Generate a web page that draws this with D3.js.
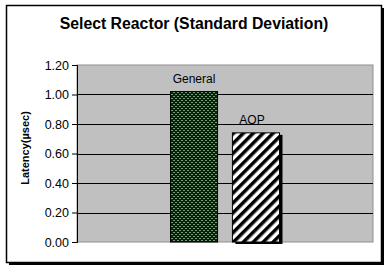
<!DOCTYPE html>
<html>
<head>
<meta charset="utf-8">
<script src="https://cdn.jsdelivr.net/npm/d3@7"></script>
<style>
  body { margin: 0; background: #fff; }
  svg { display: block; font-family: Arial, "Liberation Sans", sans-serif; }
</style>
</head>
<body>
<svg id="chart"></svg>
<script>
/*
    LAYOUT
*/
var width = 390;
var height = 271;
var margin = {top: 65, right: 17, bottom: 29, left: 77};

var w = width - margin.left - margin.right;
var h = height - margin.top - margin.bottom;

/*
    DATA
*/
var categories = ["Select Reactor"];
var series = ["General", "AOP"];
var values = [1.02, 0.74];
var yTicks = [0, 0.2, 0.4, 0.6, 0.8, 1.0, 1.2];

var svg = d3.select("#chart")
  .attr("width", width)
  .attr("height", height);

// patterns for the two bars
var defs = svg.append("defs");

var dots = defs.append("pattern")
  .attr("id", "dots")
  .attr("patternUnits", "userSpaceOnUse")
  .attr("width", 4).attr("height", 4);
dots.append("rect").attr("width", 4).attr("height", 4).attr("fill", "#002800");
dots.append("rect").attr("x", 1).attr("y", 1).attr("width", 1).attr("height", 1).attr("fill", "#fff");
dots.append("rect").attr("x", 3).attr("y", 3).attr("width", 1).attr("height", 1).attr("fill", "#fff");

var stripes = defs.append("pattern")
  .attr("id", "stripes")
  .attr("patternUnits", "userSpaceOnUse")
  .attr("width", 7).attr("height", 7)
  .attr("patternTransform", "rotate(45)");
stripes.append("rect").attr("width", 7).attr("height", 7).attr("fill", "#fff");
stripes.append("rect").attr("width", 3.5).attr("height", 7).attr("fill", "#000");

// outer frame with shadow
svg.append("rect")
  .attr("x", 9).attr("y", 8)
  .attr("width", 375).attr("height", 257)
  .attr("fill", "#000");
svg.append("rect")
  .attr("x", 6.5).attr("y", 5.5)
  .attr("width", 375).attr("height", 257)
  .attr("fill", "#fff")
  .attr("stroke", "#000")
  .attr("stroke-width", 1.5);

// title
svg.append("text")
  .attr("x", 194)
  .attr("y", 29)
  .attr("text-anchor", "middle")
  .style("font-size", "15.8px")
  .style("font-weight", "bold")
  .text("Select Reactor (Standard Deviation)");

var chart = svg.append("g")
  .attr("transform", "translate(" + margin.left + "," + margin.top + ")");

// scales
var x0 = d3.scaleBand()
  .domain(categories)
  .range([0, w])
  .paddingOuter(0.858);

var x1 = d3.scaleBand()
  .domain(series)
  .range([0, x0.bandwidth()])
  .paddingInner(0.24);

var y = d3.scaleLinear()
  .domain([0, 1.2])
  .range([h, 0]);

// plot area
chart.append("rect")
  .attr("width", w).attr("height", h)
  .attr("fill", "#c0c0c0")
  .attr("stroke", "#909090")
  .attr("stroke-width", 1);

// gridlines
chart.selectAll(".grid")
  .data(yTicks.filter(function(d) { return d > 0 && d < 1.2; }))
  .enter().append("line")
  .attr("class", "grid")
  .attr("x1", 0).attr("x2", w)
  .attr("y1", function(d) { return Math.round(y(d)) + 0.5; })
  .attr("y2", function(d) { return Math.round(y(d)) + 0.5; })
  .attr("stroke", "#000");

// y axis
var yAxis = chart.append("g")
  .attr("class", "y-axis")
  .call(d3.axisLeft(y)
    .tickValues(yTicks)
    .tickFormat(d3.format(".2f"))
    .tickSize(5)
    .tickPadding(3));
yAxis.selectAll("path, line").attr("stroke", "#000");
yAxis.selectAll("text")
  .style("font-size", "12.5px")
  .style("font-family", "Arial, 'Liberation Sans', sans-serif")
  .attr("fill", "#000");

// y label
svg.append("text")
  .attr("transform", "translate(29,148) rotate(-90)")
  .attr("text-anchor", "middle")
  .style("font-size", "11px")
  .style("font-weight", "bold")
  .text("Latency(\u00b5sec)");

// bars
var g = chart.selectAll(".group")
  .data(categories)
  .enter().append("g")
  .attr("class", "group")
  .attr("transform", function(d) { return "translate(" + x0(d) + ",0)"; });

var barData = series.map(function(s, i) { return {name: s, value: values[i]}; });

// shadow behind the AOP bar
g.selectAll(".shadow")
  .data(barData.filter(function(d) { return d.name == "AOP"; }))
  .enter().append("rect")
  .attr("class", "shadow")
  .attr("x", function(d) { return x1(d.name) + 3; })
  .attr("y", function(d) { return y(d.value) + 2; })
  .attr("width", x1.bandwidth())
  .attr("height", function(d) { return h - y(d.value); })
  .attr("fill", "#000");

g.selectAll(".bar")
  .data(barData)
  .enter().append("rect")
  .attr("class", "bar")
  .attr("x", function(d) { return x1(d.name); })
  .attr("y", function(d) { return y(d.value); })
  .attr("width", x1.bandwidth())
  .attr("height", function(d) { return h - y(d.value); })
  .attr("fill", function(d) { return d.name == "General" ? "url(#dots)" : "url(#stripes)"; })
  .attr("stroke", "#000")
  .attr("stroke-width", 1);

g.selectAll(".label")
  .data(barData)
  .enter().append("text")
  .attr("class", "label")
  .attr("x", function(d) { return x1(d.name) + x1.bandwidth() / 2 - (d.name == "AOP" ? 4 : 0); })
  .attr("y", function(d) { return y(d.value) - 9; })
  .attr("text-anchor", "middle")
  .style("font-size", "12px")
  .text(function(d) { return d.name; });
</script>
</body>
</html>
